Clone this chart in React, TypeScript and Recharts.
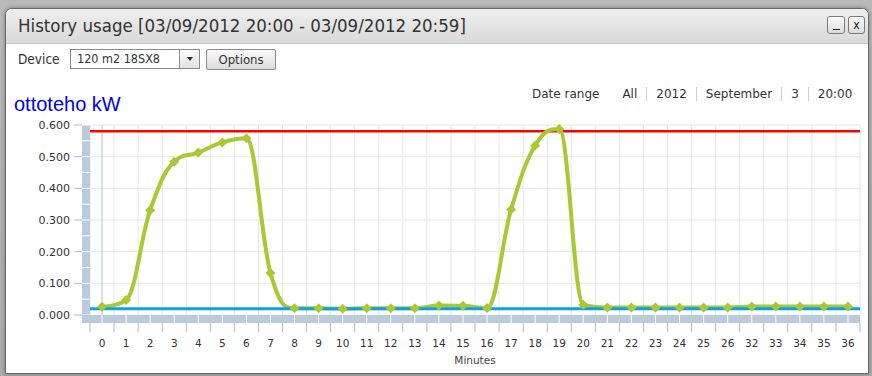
import React from 'react';
import { LineChart, Line, XAxis, YAxis, ReferenceLine } from 'recharts';

// minutes shown on the axis (27..31 are missing in the source)
const minutes = ['0', '1', '2', '3', '4', '5', '6', '7', '8', '9', '10', '11', '12', '13', '14', '15', '16', '17', '18', '19', '20', '21', '22', '23', '24', '25', '26', '32', '33', '34', '35', '36'];
// ottoteho kW
const power = [0.026, 0.047, 0.331, 0.484, 0.513, 0.545, 0.558, 0.133, 0.021, 0.021, 0.020, 0.021, 0.021, 0.021, 0.030, 0.029, 0.022, 0.333, 0.535, 0.587, 0.032, 0.024, 0.024, 0.024, 0.024, 0.024, 0.024, 0.027, 0.027, 0.027, 0.027, 0.027];
const yTicks = [0, 0.05, 0.1, 0.15, 0.2, 0.25, 0.3, 0.35, 0.4, 0.45, 0.5, 0.55, 0.6];
const yGrid = [0.1, 0.2, 0.3, 0.4, 0.5, 0.6];
const upperLimit = 0.58;
const lowerLimit = 0.02;
const dateRange = ['All', '2012', 'September', '3', '20:00'];

const data = minutes.map((m, i) => ({ m, v: power[i] }));

const GREEN = '#a8c933';
const BAND = '#bccbdb';
const AXIS = '#a9bccf';
const GRID = '#e6e6e6';
const BW = 8;
const chartFont = '"DejaVu Sans", Verdana, sans-serif';

// highcharts-like spline (smoothing 1.5, no overshoot past neighbours)
const hcSpline: any = (ctx: any) => {
  let pts: number[][] = [];
  return {
    areaStart() {},
    areaEnd() {},
    lineStart() { pts = []; },
    point(x: number, y: number) { pts.push([+x, +y]); },
    lineEnd() {
      const n = pts.length;
      if (!n) return;
      const sm = 1.5, den = sm + 1;
      const lc: number[][] = [], rc: number[][] = [];
      for (let i = 0; i < n; i++) {
        const [x, y] = pts[i];
        if (i === 0 || i === n - 1) { lc[i] = [x, y]; rc[i] = [x, y]; continue; }
        const [lx, ly] = pts[i - 1];
        const [nx, ny] = pts[i + 1];
        const lcx = (sm * x + lx) / den, rcx = (sm * x + nx) / den;
        let lcy = (sm * y + ly) / den, rcy = (sm * y + ny) / den;
        if (rcx !== lcx) {
          const corr = ((rcy - lcy) * (rcx - x)) / (rcx - lcx) + y - rcy;
          lcy += corr; rcy += corr;
        }
        if (lcy > ly && lcy > y) { lcy = Math.max(ly, y); rcy = 2 * y - lcy; }
        else if (lcy < ly && lcy < y) { lcy = Math.min(ly, y); rcy = 2 * y - lcy; }
        if (rcy > ny && rcy > y) { rcy = Math.max(ny, y); lcy = 2 * y - rcy; }
        else if (rcy < ny && rcy < y) { rcy = Math.min(ny, y); lcy = 2 * y - rcy; }
        lc[i] = [lcx, lcy]; rc[i] = [rcx, rcy];
      }
      ctx.moveTo(pts[0][0], pts[0][1]);
      for (let i = 1; i < n; i++) {
        ctx.bezierCurveTo(rc[i - 1][0], rc[i - 1][1], lc[i][0], lc[i][1], pts[i][0], pts[i][1]);
      }
    },
  };
};

const XTick = (props: any) => {
  const { x, y, index, payload, width, visibleTicksCount } = props;
  const n = visibleTicksCount || minutes.length;
  const step = width / n;
  const half = step / 2;
  const last = index === n - 1;
  const left = index === 0 ? x - half - BW : x - step + 0.5;
  return (
    <g>
      <rect x={left} y={y} width={x - 0.5 - left} height={BW} fill={BAND} />
      {last && <rect x={x + 0.5} y={y} width={half - 0.5} height={BW} fill={BAND} />}
      <line x1={x - half} x2={x - half} y1={y + BW} y2={y + BW + 9} stroke={AXIS} />
      {last && <line x1={x + half} x2={x + half} y1={y + BW} y2={y + BW + 9} stroke={AXIS} />}
      <text x={x} y={y + 32} textAnchor="middle" fontSize={10.5} fontFamily={chartFont} fill="#333">
        {payload.value}
      </text>
    </g>
  );
};

const YTick = (props: any) => {
  const { x, y, index, height, payload } = props;
  const step = height / (yTicks.length - 1);
  const major = index % 2 === 0;
  return (
    <g>
      {index > 0 && <rect x={x - BW} y={y + 0.5} width={BW} height={step - 1} fill={BAND} />}
      {major && <line x1={x - BW - 8} x2={x - BW} y1={y} y2={y} stroke={AXIS} />}
      {major && (
        <text x={x - BW - 12} y={y + 4} textAnchor="end" fontSize={11} fontFamily={chartFont} fill="#333">
          {payload.value.toFixed(3)}
        </text>
      )}
    </g>
  );
};

const Diamond = (p: any) => {
  const { cx, cy, index } = p;
  const r = 5;
  return <path key={index} d={`M${cx},${cy - r}L${cx + r},${cy}L${cx},${cy + r}L${cx - r},${cy}Z`} fill={GREEN} />;
};

const ui = '"DejaVu Sans Condensed", "DejaVu Sans", sans-serif';

const btn: React.CSSProperties = {
  position: 'absolute',
  border: '1px solid #7a7a7a',
  borderRadius: 3,
  background: 'linear-gradient(#fbfbfb, #dcdcdc)',
  boxSizing: 'border-box',
  display: 'flex',
  alignItems: 'center',
  justifyContent: 'center',
  color: '#222',
};

export default function App() {
  return (
    <div style={{ position: 'fixed', left: 0, top: 0, width: 872, height: 376, overflow: 'hidden', background: 'linear-gradient(#b9b9b9, #adadad)' }}>
      <div style={{ position: 'absolute', left: 5, top: 8, width: 864, height: 366, boxSizing: 'border-box', border: '1px solid #696969', borderRadius: '7px 7px 0 0', background: '#fff', boxShadow: '0 0 4px rgba(0,0,0,0.35)', overflow: 'hidden' }}>
        <div style={{ height: 34, background: 'linear-gradient(#efefef, #d9d9d9)', borderBottom: '1px solid #cccccc' }} />
      </div>
      <div style={{ position: 'absolute', left: 18, top: 15, fontFamily: ui, fontSize: 18.5, lineHeight: '22px', color: '#333', whiteSpace: 'nowrap' }}>
        History usage [03/09/2012 20:00 - 03/09/2012 20:59]
      </div>
      <div style={{ ...btn, left: 827, top: 16, width: 18, height: 18, fontSize: 12, fontFamily: ui, alignItems: 'flex-end', paddingBottom: 3 }}>
        <div style={{ width: 7, height: 1, background: '#222' }} />
      </div>
      <div style={{ ...btn, left: 848, top: 16, width: 17, height: 18, fontSize: 12, fontFamily: ui }}>x</div>

      <div style={{ position: 'absolute', left: 18, top: 51, fontFamily: ui, fontSize: 13.5, lineHeight: '16px', color: '#333' }}>Device</div>
      <div style={{ position: 'absolute', left: 70, top: 49, width: 130, height: 20, boxSizing: 'border-box', border: '1px solid #8a8a8a', background: '#fff', fontFamily: ui, fontSize: 12.5, lineHeight: '18px', color: '#333' }}>
        <span style={{ position: 'absolute', left: 6 }}>120 m2 18SX8</span>
        <div style={{ position: 'absolute', right: 0, top: 0, width: 19, height: 18, borderLeft: '1px solid #8a8a8a', background: 'linear-gradient(#fbfbfb, #e2e2e2)', display: 'flex', alignItems: 'center', justifyContent: 'center' }}>
          <div style={{ width: 0, height: 0, borderLeft: '3.5px solid transparent', borderRight: '3.5px solid transparent', borderTop: '4px solid #333' }} />
        </div>
      </div>
      <div style={{ ...btn, left: 206, top: 49, width: 70, height: 21, borderRadius: 2, border: '1px solid #8a8a8a', fontFamily: ui, fontSize: 13, color: '#333' }}>Options</div>

      <div style={{ position: 'absolute', left: 532, top: 86, display: 'flex', alignItems: 'center', fontFamily: chartFont, fontSize: 12, lineHeight: '16px', color: '#333', whiteSpace: 'nowrap' }}>
        <span style={{ marginRight: 23 }}>Date range</span>
        {dateRange.map((d, i) => (
          <React.Fragment key={d}>
            {i > 0 && <span style={{ width: 1, height: 14, background: '#cfcfcf', margin: '0 9px' }} />}
            <span>{d}</span>
          </React.Fragment>
        ))}
      </div>

      <div style={{ position: 'absolute', left: 14, top: 93, fontFamily: '"Liberation Sans", Arial, sans-serif', fontSize: 20, lineHeight: '22px', color: '#0000ee' }}>
        ottoteho kW
      </div>

      <div style={{ position: 'absolute', left: 0, top: 0 }}>
        <LineChart width={872} height={376} data={data} margin={{ top: 125, right: 12, bottom: 0, left: 0 }}>
          {minutes.map((m) => (
            <ReferenceLine key={'g' + m} x={m} position="start" stroke={GRID} />
          ))}
          <ReferenceLine x={minutes[minutes.length - 1]} position="end" stroke={GRID} />
          {yGrid.map((v) => (
            <ReferenceLine key={'h' + v} y={v} stroke={GRID} />
          ))}
          <ReferenceLine x={minutes[0]} stroke="#b3c3d3" />
          <XAxis
            dataKey="m"
            scale="band"
            interval={0}
            height={61}
            tickSize={0}
            tickMargin={0}
            tickLine={false}
            axisLine={false}
            tick={(p: any) => <XTick {...p} />}
            label={{ value: 'Minutes', position: 'insideBottom', offset: 12, fontSize: 10.5, fontFamily: chartFont, fill: '#444' }}
          />
          <YAxis
            domain={[0, 0.6]}
            ticks={yTicks}
            interval={0}
            width={90}
            tickSize={0}
            tickMargin={0}
            tickLine={false}
            axisLine={false}
            tick={(p: any) => <YTick {...p} />}
          />
          <ReferenceLine y={upperLimit} stroke="#ff0000" strokeWidth={2.5} />
          <Line
            dataKey="v"
            type={hcSpline}
            stroke={GREEN}
            strokeWidth={4}
            dot={(p: any) => <Diamond key={p.index} {...p} />}
            activeDot={false}
            isAnimationActive={false}
          />
          <ReferenceLine y={lowerLimit} stroke="#0aa0ea" strokeWidth={3} />
        </LineChart>
      </div>
    </div>
  );
}
